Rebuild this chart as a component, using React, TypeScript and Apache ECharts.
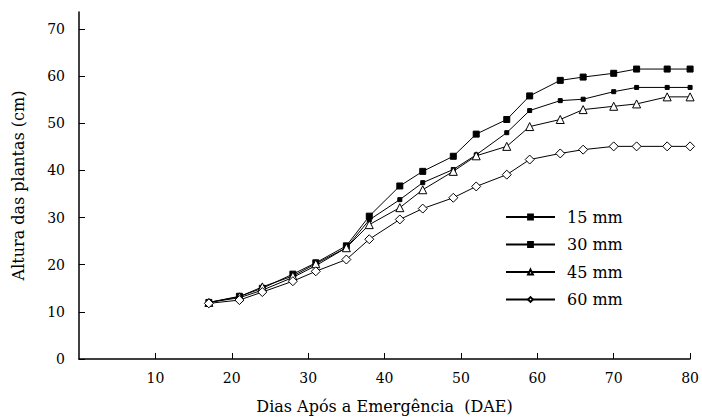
import React, { useEffect, useRef } from "react";
import * as echarts from "echarts";

const days = [17, 21, 24, 28, 31, 35, 38, 42, 45, 49, 52, 56, 59, 63, 66, 70, 73, 77, 80];
const mm15 = [12.0, 13.3, 15.0, 18.0, 20.4, 24.0, 30.3, 36.7, 39.8, 43.0, 47.7, 50.8, 55.8, 59.1, 59.8, 60.6, 61.5, 61.5, 61.5];
const mm30 = [12.0, 13.0, 14.6, 17.3, 19.8, 23.6, 29.5, 33.8, 37.4, 40.2, 43.3, 48.0, 52.7, 54.8, 55.1, 56.7, 57.6, 57.6, 57.6];
const mm45 = [12.0, 13.2, 15.3, 17.6, 20.2, 23.6, 28.5, 32.1, 35.9, 39.8, 43.1, 45.1, 49.3, 50.8, 52.9, 53.6, 54.1, 55.6, 55.6];
const mm60 = [11.8, 12.5, 14.2, 16.5, 18.6, 21.1, 25.4, 29.6, 31.9, 34.2, 36.6, 39.1, 42.3, 43.6, 44.4, 45.1, 45.1, 45.1, 45.1];
const seriesNames = ["15 mm", "30 mm", "45 mm", "60 mm"];
const xTicks = [10, 20, 30, 40, 50, 60, 70, 80];
const yTicks = [0, 10, 20, 30, 40, 50, 60, 70];

const FONT = "DejaVu Serif";

export default function App() {
  const ref = useRef<HTMLDivElement>(null);
  useEffect(() => {
    if (!ref.current) return;
    const chart = echarts.init(ref.current, null, { renderer: "svg" });
    const mk = (name: string, vals: number[], symbol: string, size: number, fill: string) => ({
      name,
      type: "line",
      data: days.map((d, i) => [d, vals[i]]),
      symbol,
      symbolSize: size,
      showAllSymbol: true,
      lineStyle: { color: "#000", width: 1 },
      itemStyle: { color: fill, borderColor: "#000", borderWidth: 1 },
      z: 3,
    });
    chart.setOption({
      animation: false,
      backgroundColor: "#fff",
      textStyle: { fontFamily: FONT, color: "#000" },
      grid: { left: 79, right: 9, top: 12, bottom: 59, containLabel: false },
      legend: {
        orient: "vertical",
        left: 500,
        top: 204,
        itemWidth: 49,
        itemHeight: 6,
        itemGap: 11.5,
        data: seriesNames,
        textStyle: { fontFamily: FONT, fontSize: 16, color: "#000", padding: [0, 0, 0, 7] },
      },
      xAxis: {
        type: "value",
        min: 0,
        max: 80,
        interval: 10,
        name: "Dias Após a Emergência  (DAE)",
        nameLocation: "middle",
        nameGap: 39,
        nameTextStyle: { fontFamily: FONT, fontSize: 16, color: "#000" },
        axisLine: { show: true, onZero: false, lineStyle: { color: "#000", width: 1.5 } },
        axisTick: { show: true, inside: true, length: 6, customValues: xTicks, lineStyle: { color: "#000" } },
        axisLabel: { customValues: xTicks, fontFamily: FONT, fontSize: 14, color: "#000", margin: 12 },
        splitLine: { show: false },
      },
      yAxis: {
        type: "value",
        min: 0,
        max: 73.6,
        interval: 10,
        name: "Altura das plantas (cm)",
        nameLocation: "middle",
        nameRotate: 90,
        nameGap: 53,
        nameTextStyle: { fontFamily: FONT, fontSize: 16, color: "#000" },
        axisLine: { show: true, lineStyle: { color: "#000", width: 1.5 } },
        axisTick: { show: true, inside: true, length: 6, customValues: yTicks, lineStyle: { color: "#000" } },
        axisLabel: { customValues: yTicks, fontFamily: FONT, fontSize: 14, color: "#000", margin: 14 },
        splitLine: { show: false },
      },
      series: [
        mk(seriesNames[0], mm15, "rect", 6, "#000"),
        mk(seriesNames[1], mm30, "rect", 4, "#000"),
        mk(seriesNames[2], mm45, "triangle", 8, "#fff"),
        mk(seriesNames[3], mm60, "diamond", 9, "#fff"),
      ],
    });
    return () => chart.dispose();
  }, []);
  return <div ref={ref} style={{ width: 702, height: 419, position: "absolute", left: 0, top: 0 }} />;
}
